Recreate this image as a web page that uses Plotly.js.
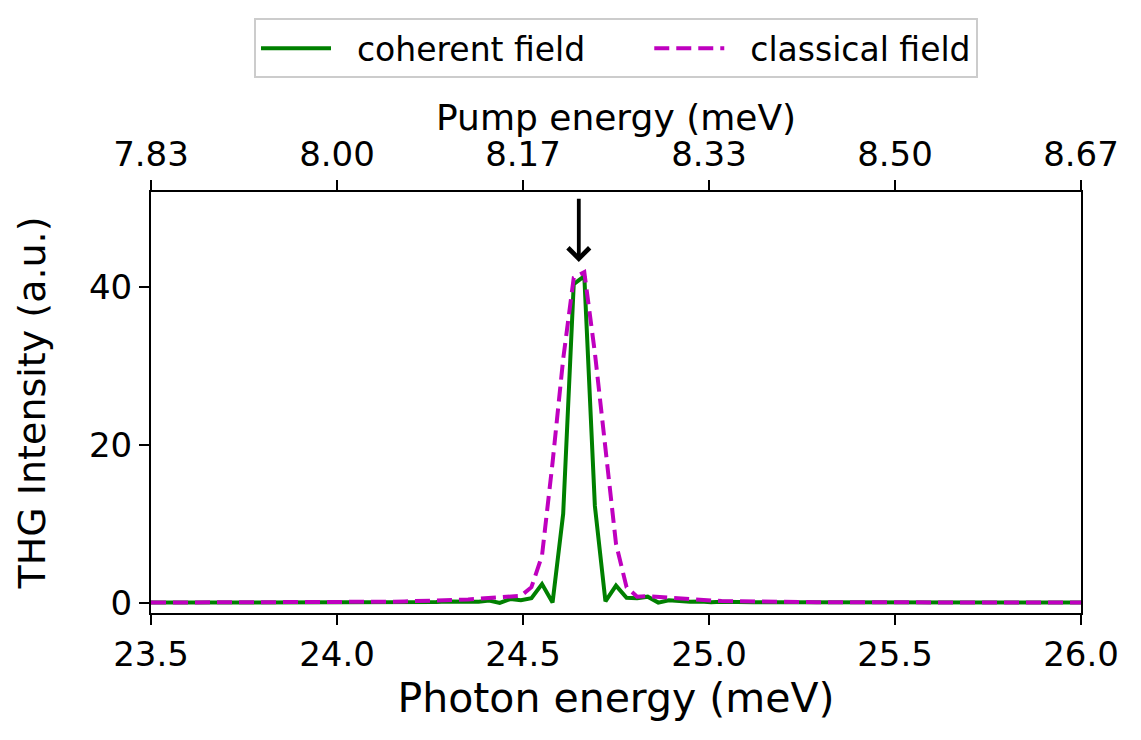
<!DOCTYPE html>
<html>
<head>
<meta charset="utf-8">
<script src="https://cdn.plot.ly/plotly-3.0.1.min.js"></script>
<style>
  html, body { margin: 0; padding: 0; background: #fff; }
  #chart { width: 1141px; height: 740px; }
</style>
</head>
<body>
<div id="chart"></div>
<script>
// photon energy grid (meV)
var photonEnergy = [
  23.5000, 23.5284, 23.5568, 23.5852, 23.6136, 23.6420, 23.6705, 23.6989, 23.7273, 23.7557,
  23.7841, 23.8125, 23.8409, 23.8693, 23.8977, 23.9261, 23.9545, 23.9830, 24.0114, 24.0398,
  24.0682, 24.0966, 24.1250, 24.1534, 24.1818, 24.2102, 24.2386, 24.2670, 24.2955, 24.3239,
  24.3523, 24.3807, 24.4091, 24.4375, 24.4659, 24.4943, 24.5227, 24.5511, 24.5795, 24.6080,
  24.6364, 24.6648, 24.6932, 24.7216, 24.7500, 24.7784, 24.8068, 24.8352, 24.8636, 24.8920,
  24.9205, 24.9489, 24.9773, 25.0057, 25.0341, 25.0625, 25.0909, 25.1193, 25.1477, 25.1761,
  25.2045, 25.2330, 25.2614, 25.2898, 25.3182, 25.3466, 25.3750, 25.4034, 25.4318, 25.4602,
  25.4886, 25.5170, 25.5455, 25.5739, 25.6023, 25.6307, 25.6591, 25.6875, 25.7159, 25.7443,
  25.7727, 25.8011, 25.8295, 25.8580, 25.8864, 25.9148, 25.9432, 25.9716, 26.0000
];

// THG intensity, coherent field
var coherent = [
  0.05, 0.05, 0.05, 0.05, 0.05, 0.05, 0.05, 0.05, 0.05, 0.05,
  0.05, 0.06, 0.06, 0.06, 0.07, 0.07, 0.07, 0.07, 0.08, 0.08,
  0.08, 0.09, 0.10, 0.10, 0.12, 0.12, 0.15, 0.12, 0.18, 0.15,
  0.20, 0.15, 0.32, 0.00, 0.50, 0.35, 0.60, 2.40, 0.05, 11.3,
  40.4, 41.4, 12.3, 0.20, 2.20, 0.65, 0.60, 0.80, 0.05, 0.35,
  0.25, 0.15, 0.20, 0.10, 0.15, 0.10, 0.10, 0.10, 0.09, 0.09,
  0.08, 0.08, 0.07, 0.07, 0.07, 0.06, 0.06, 0.06, 0.06, 0.05,
  0.05, 0.05, 0.05, 0.05, 0.05, 0.05, 0.05, 0.05, 0.05, 0.05,
  0.05, 0.05, 0.05, 0.05, 0.05, 0.05, 0.05, 0.05, 0.05
];

// THG intensity, classical field
var classical = [
  0.05, 0.05, 0.05, 0.05, 0.05, 0.05, 0.05, 0.05, 0.05, 0.05,
  0.05, 0.06, 0.06, 0.06, 0.07, 0.07, 0.07, 0.08, 0.08, 0.09,
  0.10, 0.12, 0.14, 0.16, 0.20, 0.22, 0.25, 0.30, 0.35, 0.40,
  0.45, 0.55, 0.65, 0.75, 0.80, 0.90, 2.00, 6.00, 17.8, 30.9,
  41.2, 41.9, 31.7, 19.1, 7.50, 2.00, 0.80, 0.85, 0.75, 0.60,
  0.50, 0.42, 0.36, 0.30, 0.25, 0.22, 0.20, 0.17, 0.15, 0.13,
  0.12, 0.11, 0.10, 0.10, 0.09, 0.09, 0.08, 0.08, 0.07, 0.07,
  0.07, 0.06, 0.06, 0.06, 0.06, 0.05, 0.05, 0.05, 0.05, 0.05,
  0.05, 0.05, 0.05, 0.05, 0.05, 0.05, 0.05, 0.05, 0.05
];

// ticks: photon energy below, pump energy (= photon / 3) above
var photonTicks = [23.5, 24.0, 24.5, 25.0, 25.5, 26.0];
var photonTickText = ['23.5', '24.0', '24.5', '25.0', '25.5', '26.0'];
var pumpTickText = ['7.83', '8.00', '8.17', '8.33', '8.50', '8.67'];
var intensityTicks = [0, 20, 40];

// arrow marking the resonance
var arrowX = 24.65;
var arrowTip = 43.2;
var arrowTail = 51.4;

var font = 'DejaVu Sans, Liberation Sans, sans-serif';
var lead = '\u00a0\u00a0';                       // gap between legend line and label
var trail = '\u00a0\u00a0\u00a0\u00a0\u00a0\u2009'; // gap between the two legend entries

var traces = [
  {
    x: photonEnergy,
    y: coherent,
    type: 'scatter',
    mode: 'lines',
    name: lead + 'coherent field' + trail,
    line: { color: '#008000', width: 4 }
  },
  {
    x: photonEnergy,
    y: classical,
    type: 'scatter',
    mode: 'lines',
    name: lead + 'classical field',
    line: { color: '#bf00bf', width: 4, dash: '15px,7px' }
  },
  {
    // empty trace so the top (pump energy) axis gets drawn
    x: [photonTicks[0], photonTicks[photonTicks.length - 1]],
    y: [null, null],
    xaxis: 'x2',
    yaxis: 'y',
    type: 'scatter',
    mode: 'lines',
    showlegend: false,
    hoverinfo: 'skip'
  }
];

var axisCommon = {
  showgrid: false,
  zeroline: false,
  showline: true,
  linecolor: '#000',
  linewidth: 2,
  ticks: 'outside',
  ticklen: 10,
  tickwidth: 2,
  tickcolor: '#000',
  tickfont: { family: font, size: 34, color: '#000' }
};

var layout = {
  width: 1141,
  height: 740,
  margin: { l: 151, r: 60, t: 192, b: 127 },
  paper_bgcolor: '#fff',
  plot_bgcolor: '#fff',
  font: { family: font, color: '#000' },
  showlegend: true,
  legend: {
    orientation: 'h',
    x: 0.5,
    xanchor: 'center',
    y: 1.27,
    yanchor: 'bottom',
    bordercolor: '#cccccc',
    borderwidth: 2,
    font: { family: font, size: 33, color: '#000' },
    itemwidth: 70
  },
  xaxis: Object.assign({}, axisCommon, {
    range: [23.5, 26.0],
    tickmode: 'array',
    tickvals: photonTicks,
    ticktext: photonTickText,
    title: { text: 'Photon energy (meV)', font: { family: font, size: 41, color: '#000' }, standoff: 8 }
  }),
  xaxis2: Object.assign({}, axisCommon, {
    range: [23.5, 26.0],
    overlaying: 'x',
    side: 'top',
    anchor: 'y',
    tickmode: 'array',
    tickvals: photonTicks,
    ticktext: pumpTickText
  }),
  yaxis: Object.assign({}, axisCommon, {
    range: [-1.27, 52.06],
    tickmode: 'array',
    tickvals: intensityTicks,
    mirror: true,
    title: { text: 'THG Intensity (a.u.)', font: { family: font, size: 38, color: '#000' }, standoff: 32 }
  }),
  annotations: [
    {
      // top axis title, placed a little closer to the tick labels than standoff allows
      text: 'Pump energy (meV)',
      xref: 'paper',
      yref: 'paper',
      x: 0.5,
      y: 1.176,
      xanchor: 'center',
      yanchor: 'middle',
      showarrow: false,
      font: { family: font, size: 36, color: '#000' }
    },
    {
      x: arrowX,
      y: arrowTip,
      ax: arrowX,
      ay: arrowTail,
      xref: 'x',
      yref: 'y',
      axref: 'x',
      ayref: 'y',
      text: '',
      showarrow: true,
      arrowhead: 4,
      arrowsize: 1.1,
      arrowwidth: 3.8,
      arrowcolor: '#000'
    }
  ]
};

Plotly.newPlot('chart', traces, layout, { staticPlot: true, displayModeBar: false });
</script>
</body>
</html>
